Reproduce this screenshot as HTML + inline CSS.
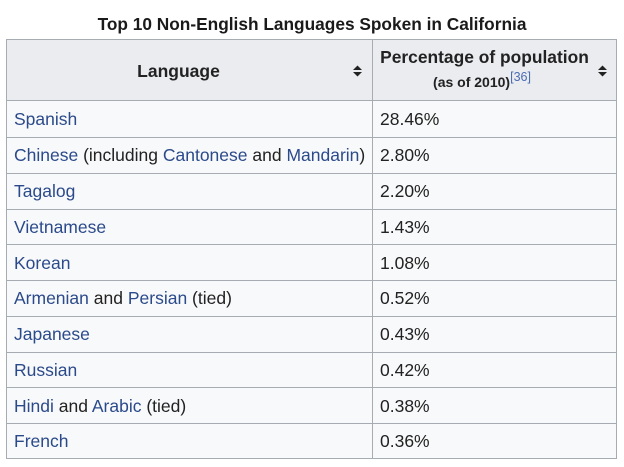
<!DOCTYPE html>
<html>
<head>
<meta charset="utf-8">
<style>
html,body{margin:0;padding:0;background:#fff;}
body{width:624px;height:467px;position:relative;overflow:hidden;font-family:"Liberation Sans",Arial,sans-serif;color:#222;}
.title{position:absolute;left:0;width:624px;top:14px;line-height:20px;font-size:17.3px;font-weight:bold;text-align:center;color:#1a1a1a;}
.tbl{position:absolute;left:6px;top:39px;width:611px;height:420px;border:1px solid #a7acb3;box-sizing:border-box;background:#f8f9fa;}
.hdr{position:absolute;left:6px;top:39px;width:611px;height:62px;background:#eaecf0;border:1px solid #a7acb3;box-sizing:border-box;}
.vline{position:absolute;left:372px;top:39px;width:1px;height:420px;background:#a7acb3;}
.hline{position:absolute;left:6px;width:611px;height:1px;background:#a7acb3;}
.c1,.c2{position:absolute;font-size:17.5px;line-height:36px;height:36px;white-space:nowrap;}
.c1{left:14px;}
.c2{left:380px;}
a{color:#2b4a8b;text-decoration:none;}
.h1{position:absolute;left:6px;width:345px;top:60px;line-height:22px;font-size:17.5px;font-weight:bold;text-align:center;}
.h2a{position:absolute;left:372px;width:225px;top:46px;line-height:22px;font-size:17.4px;font-weight:bold;text-align:center;}
.h2b{position:absolute;left:369px;width:226px;top:74px;line-height:16px;font-size:14px;font-weight:bold;text-align:center;}
.h2b sup{font-size:12.5px;font-weight:normal;color:#4a6cb3;vertical-align:6px;line-height:0;}
.icon{position:absolute;}
</style>
</head>
<body>
<div class="title">Top 10 Non-English Languages Spoken in California</div>
<div class="tbl"></div>
<div class="hdr"></div>
<div class="vline"></div>

<div class="h1">Language</div>
<div class="h2a">Percentage of population</div>
<div class="h2b">(as of 2010)<sup>[36]</sup></div>

<svg class="icon" style="left:352px;top:65px" width="11" height="12" viewBox="0 0 11 12">
  <polygon points="5.5,0.5 10,5 1,5" fill="#222"/>
  <polygon points="1,7 10,7 5.5,11.5" fill="#222"/>
</svg>
<svg class="icon" style="left:597px;top:65px" width="11" height="12" viewBox="0 0 11 12">
  <polygon points="5.5,0.5 10,5 1,5" fill="#222"/>
  <polygon points="1,7 10,7 5.5,11.5" fill="#222"/>
</svg>

<div class="hline" style="top:137px"></div>
<div class="hline" style="top:173px"></div>
<div class="hline" style="top:209px"></div>
<div class="hline" style="top:244px"></div>
<div class="hline" style="top:280px"></div>
<div class="hline" style="top:316px"></div>
<div class="hline" style="top:352px"></div>
<div class="hline" style="top:387px"></div>
<div class="hline" style="top:423px"></div>

<div class="c1" style="top:101px"><a>Spanish</a></div>
<div class="c2" style="top:101px">28.46%</div>

<div class="c1" style="top:137px"><a>Chinese</a> (including <a>Cantonese</a> and <a>Mandarin</a>)</div>
<div class="c2" style="top:137px">2.80%</div>

<div class="c1" style="top:173px"><a>Tagalog</a></div>
<div class="c2" style="top:173px">2.20%</div>

<div class="c1" style="top:209px"><a>Vietnamese</a></div>
<div class="c2" style="top:209px">1.43%</div>

<div class="c1" style="top:245px"><a>Korean</a></div>
<div class="c2" style="top:245px">1.08%</div>

<div class="c1" style="top:280px"><a>Armenian</a> and <a>Persian</a> (tied)</div>
<div class="c2" style="top:280px">0.52%</div>

<div class="c1" style="top:316px"><a>Japanese</a></div>
<div class="c2" style="top:316px">0.43%</div>

<div class="c1" style="top:352px"><a>Russian</a></div>
<div class="c2" style="top:352px">0.42%</div>

<div class="c1" style="top:388px"><a>Hindi</a> and <a>Arabic</a> (tied)</div>
<div class="c2" style="top:388px">0.38%</div>

<div class="c1" style="top:423px"><a>French</a></div>
<div class="c2" style="top:423px">0.36%</div>
</body>
</html>
